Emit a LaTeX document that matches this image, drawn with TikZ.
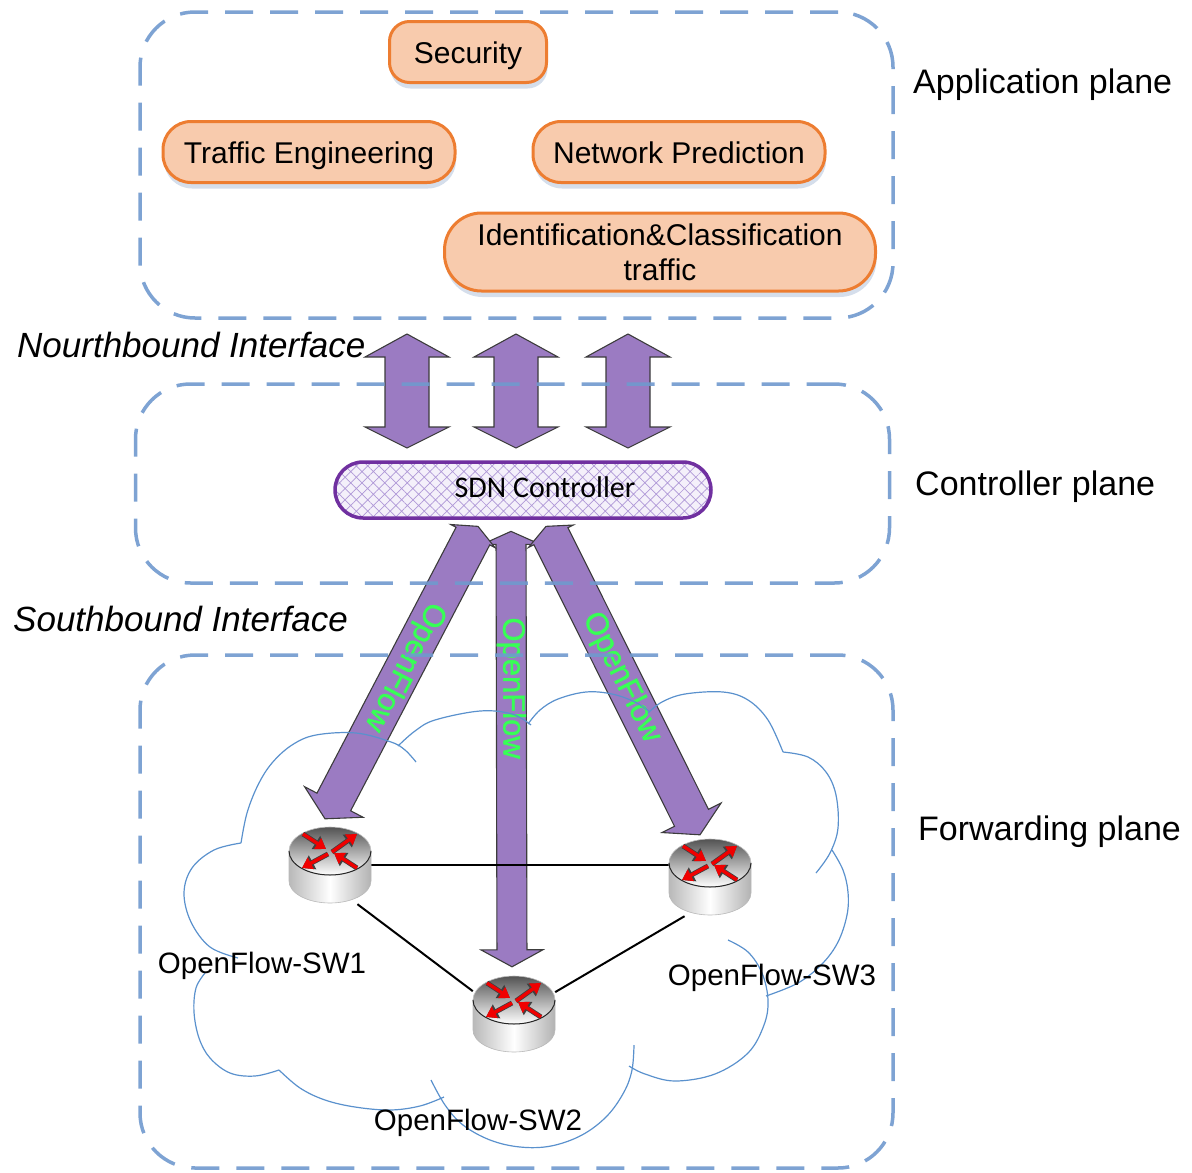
\documentclass[tikz,border=0pt]{standalone}
\usepackage{fontspec}
\setmainfont{Liberation Sans}
\newfontfamily\ctrlfont{Carlito}
\newfontfamily\flowfont[FakeBold=1.2]{Liberation Sans}
\usetikzlibrary{calc,shadows,patterns.meta,arrows.meta}

\definecolor{planeblue}{RGB}{112,153,206}
\definecolor{appfill}{RGB}{248,203,173}
\definecolor{appedge}{RGB}{237,125,49}
\definecolor{shadowblue}{RGB}{185,200,222}
\definecolor{flowpurple}{RGB}{155,123,194}
\definecolor{flowedge}{RGB}{60,60,60}
\definecolor{ctrledge}{RGB}{112,48,160}
\definecolor{ctrlhatch}{RGB}{175,152,215}
\definecolor{ctrlbg}{RGB}{244,240,250}
\definecolor{ofgreen}{RGB}{55,255,85}
\definecolor{cloudblue}{RGB}{90,145,205}
\definecolor{arrowred}{RGB}{240,0,0}

\tikzset{
  plane/.style={draw=planeblue, draw opacity=0.9, line width=3.5pt,
    dash pattern=on 28pt off 17pt, rounded corners=55pt, inner sep=0pt},
  appbox/.style={draw=appedge, fill=appfill, line width=3pt, inner sep=0pt,
    align=center, font=\fontsize{30}{35}\selectfont,
    drop shadow={shadow xshift=1pt, shadow yshift=-6pt, fill=shadowblue, opacity=0.6}},
  oneline/.style={text height=22pt, text depth=0pt},
  planelabel/.style={font=\fontsize{34}{40}\selectfont, anchor=west, inner sep=0pt},
  iflabel/.style={font=\fontsize{35}{40}\selectfont\itshape, anchor=west, inner sep=0pt},
  fatarr/.style={fill=flowpurple, draw=flowedge, line width=1.1pt, line join=miter},
  oflabel/.style={text=ofgreen, font=\flowfont\fontsize{31}{34}\selectfont, inner sep=0pt},
  swlabel/.style={font=\fontsize{29.5}{34}\selectfont, inner sep=0pt},
  link/.style={draw=black, line width=2pt},
  cloudline/.style={draw=cloudblue, line width=1.2pt},
  swnode/.style={minimum width=82pt, minimum height=78pt, inner sep=0pt},
  redrim/.style={draw=black!75, line width=5pt, -{Triangle[length=12pt,width=15pt]}},
  redarr/.style={draw=arrowred, line width=3.4pt, -{Triangle[length=10pt,width=12.5pt]}},
  router/.pic={
    % cylinder body
    \shade[left color=gray!55, right color=gray!60, middle color=white,
      draw=gray!55, line width=.6pt]
      (-41,-14) -- (-41,16) arc[start angle=180, end angle=360, x radius=41pt, y radius=22pt]
      -- (41,-14) -- cycle;
    % top face
    \shade[top color=gray!65!black, bottom color=white, draw=gray!50, line width=.6pt]
      (0,-14) ellipse[x radius=41pt, y radius=24pt];
    \draw[gray!30!black, line width=1pt]
      (-41,-14) arc[start angle=180, end angle=360, x radius=41pt, y radius=24pt];
    % traffic arrows on the top face
    \foreach \s in {redrim, redarr}{
      \draw[\s] (-27,-31) -- (-4,-16);
      \draw[\s] (2,-13) -- (27,-31);
      \draw[\s] (-2,-11) -- (-28,3);
      \draw[\s] (27,3) -- (4,-12);
    }
  }
}

% thick arrow with a head at each end:
% #1 end A, #2 end B, #3 half shaft, #4 half head at B, #5 head length at B,
% #6 half head at A, #7 head length at A
\newcommand\fatarrowtwo[7]{%
  \filldraw[fatarr] (#1)
    -- ($(#1)!#7!(#2)!#6!90:(#2)$)
    -- ($(#1)!#7!(#2)!#3!90:(#2)$)
    -- ($(#2)!#5!(#1)!#3!-90:(#1)$)
    -- ($(#2)!#5!(#1)!#4!-90:(#1)$)
    -- (#2)
    -- ($(#2)!#5!(#1)!#4!90:(#1)$)
    -- ($(#2)!#5!(#1)!#3!90:(#1)$)
    -- ($(#1)!#7!(#2)!#3!-90:(#2)$)
    -- ($(#1)!#7!(#2)!#6!-90:(#2)$) -- cycle;}

\begin{document}
\begin{tikzpicture}[x=1pt, y=-1pt]
\useasboundingbox (0,0) rectangle (1192,1173);

% switch placeholders (icons drawn later)
\node[swnode] (sw1) at (330,865) {};
\node[swnode] (sw2) at (514,1014) {};
\node[swnode] (sw3) at (710,877) {};

% controller
\node[draw=ctrledge, line width=3.5pt, rounded corners=28pt,
  minimum width=376pt, minimum height=56pt, inner sep=0pt,
  preaction={fill=ctrlbg},
  pattern={Hatch[angle=45, distance=8pt, line width=.7pt]}, pattern color=ctrlhatch]
  (ctrl) at (523,490) {};
\node[font=\ctrlfont\fontsize{30}{34}\selectfont, inner sep=0pt] (ctrltext) at (545,487) {SDN Controller};

% applications
\node[appbox, oneline, minimum width=157pt, minimum height=61pt, rounded corners=20pt] (sec) at (468,52) {Security};
\node[appbox, oneline, minimum width=292pt, minimum height=61pt, rounded corners=28pt] (te) at (309,152) {Traffic Engineering};
\node[appbox, oneline, minimum width=292pt, minimum height=61pt, rounded corners=28pt] (np) at (679,152) {Network Prediction};
\node[appbox, minimum width=431pt, minimum height=78pt, rounded corners=37pt] (ic) at (660,252) {Identification\&Classification\\traffic};

% northbound interface
\coordinate (nbt1) at (407,334); \coordinate (nbb1) at (407,448);
\coordinate (nbt2) at (516,334); \coordinate (nbb2) at (516,448);
\coordinate (nbt3) at (628,334); \coordinate (nbb3) at (628,448);
\fatarrowtwo{nbt1}{nbb1}{22pt}{42pt}{21pt}{42pt}{23pt}
\fatarrowtwo{nbt2}{nbb2}{22pt}{42pt}{21pt}{42pt}{23pt}
\fatarrowtwo{nbt3}{nbb3}{22pt}{42pt}{21pt}{42pt}{23pt}

% southbound interface
\coordinate (sbt1) at ($(ctrl.south)+(-45,8)$);
\coordinate (sbt2) at ($(ctrl.south)+(-12,13)$);
\coordinate (sbt3) at ($(ctrl.south)+(23,8)$);
\coordinate (sbb1) at ($(sw1.north)+(-5,-7)$);
\coordinate (sbb2) at ($(sw2.north)+(-2,-8)$);
\coordinate (sbb3) at ($(sw3.north)+(-10,-3)$);
\fatarrowtwo{sbt2}{sbb2}{15pt}{31pt}{17pt}{29pt}{13pt}
\fatarrowtwo{sbt1}{sbb1}{19pt}{33pt}{19pt}{25pt}{11pt}
\fatarrowtwo{sbt3}{sbb3}{19pt}{33pt}{19pt}{25pt}{11pt}
\path (sbt1) -- (sbb1) node[oflabel, sloped, allow upside down, pos=0.48] {OpenFlow};
\path (sbt2) -- (sbb2) node[oflabel, sloped, allow upside down, pos=0.36] {OpenFlow};
\path (sbt3) -- (sbb3) node[oflabel, sloped, allow upside down, pos=0.49] {OpenFlow};

% network cloud
\draw[cloudline] plot[smooth, tension=0.6] coordinates {(238,958) (210,947) (191,922) (184,893) (192,868) (214,850) (241,843)};
\draw[cloudline] plot[smooth, tension=0.6] coordinates {(241,843) (247,813) (258,785) (272,763) (292,745) (316,735) (356,733) (391,742) (405,750) (416,762)};
\draw[cloudline] plot[smooth, tension=0.6] coordinates {(398,746) (415,731) (435,720) (480,711) (512,714) (531,725)};
\draw[cloudline] plot[smooth, tension=0.6] coordinates {(528,724) (540,710) (558,699) (586,692) (612,694) (635,702) (650,712)};
\draw[cloudline] plot[smooth, tension=0.6] coordinates {(648,713) (662,702) (685,694) (723,692) (748,700) (768,720) (783,752)};
\draw[cloudline] plot[smooth, tension=0.6] coordinates {(783,752) (808,757) (826,772) (836,795) (838,828) (830,853) (816,873)};
\draw[cloudline] plot[smooth, tension=0.6] coordinates {(832,850) (843,870) (848,892) (847,915) (838,942) (822,964) (798,983) (766,996)};
\draw[cloudline] plot[smooth, tension=0.6] coordinates {(728,940) (748,952) (762,973) (768,1000) (764,1025) (748,1053) (715,1074) (675,1081) (645,1074) (629,1066)};
\draw[cloudline] plot[smooth, tension=0.6] coordinates {(634,1045) (632,1070) (624,1092) (607,1116) (582,1135) (551,1146) (520,1147) (490,1140) (463,1125) (445,1105) (431,1080)};
\draw[cloudline] plot[smooth, tension=0.6] coordinates {(444,1097) (420,1106) (390,1110) (355,1107) (325,1100) (300,1088) (279,1070)};
\draw[cloudline] plot[smooth, tension=0.6] coordinates {(279,1070) (255,1076) (230,1073) (210,1058) (199,1038) (194,1012) (196,988) (205,973)};

% planes
\node[plane, minimum width=753pt, minimum height=306pt] (appplane) at (516.5,165) {};
\node[plane, minimum width=754pt, minimum height=199pt] (ctrlplane) at (512.5,483.5) {};
\node[plane, minimum width=753pt, minimum height=513pt] (fwdplane) at (516.5,911.5) {};

% links between switches
\draw[link] (sw1.east) -- (sw1.east -| sw3.west);
\draw[link] (sw1.-55) -- (sw2.151);
\draw[link] (sw3.237) -- (sw2.28);

% switch icons
\pic at (sw1) {router};
\pic at (sw2) {router};
\pic at (sw3) {router};

% labels
\node[swlabel] (sw1lbl) at (262,966) {OpenFlow-SW1};
\node[swlabel] (sw2lbl) at (478,1123) {OpenFlow-SW2};
\node[swlabel] (sw3lbl) at (772,978) {OpenFlow-SW3};

\node[planelabel] (applbl) at (913,85) {Application plane};
\node[planelabel] (ctrllbl) at (915,487) {Controller plane};
\node[planelabel] (fwdlbl) at (918,832) {Forwarding plane};

\node[iflabel] (nblbl) at (17,345) {Nourthbound Interface};
\node[iflabel] (sblbl) at (13,619) {Southbound Interface};
\end{tikzpicture}
\end{document}
